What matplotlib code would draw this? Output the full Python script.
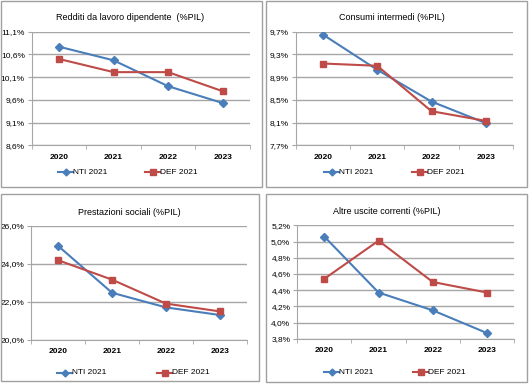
import matplotlib.pyplot as plt
from matplotlib.patches import Rectangle
from matplotlib.ticker import FuncFormatter, FixedLocator
import numpy as np

plt.rcParams['font.family'] = ['Liberation Sans Narrow', 'Liberation Sans', 'DejaVu Sans']

W, H = 529, 384

years = ['2020', '2021', '2022', '2023']
series_names = ['NTI 2021', 'DEF 2021']

titles = ['Redditi da lavoro dipendente  (%PIL)',
          'Consumi intermedi (%PIL)',
          'Prestazioni sociali (%PIL)',
          'Altre uscite correnti (%PIL)']

nti_redditi = [10.77, 10.47, 9.90, 9.53]
def_redditi = [10.50, 10.21, 10.21, 9.79]
nti_consumi = [9.65, 9.03, 8.47, 8.09]
def_consumi = [9.14, 9.10, 8.30, 8.13]
nti_prest = [24.93, 22.47, 21.70, 21.30]
def_prest = [24.18, 23.16, 21.90, 21.49]
nti_altre = [5.06, 4.37, 4.15, 3.87]
def_altre = [4.54, 5.01, 4.50, 4.37]

yticks_redditi = [8.6, 9.1, 9.6, 10.1, 10.6, 11.1]
yticks_consumi = [7.7, 8.1, 8.5, 8.9, 9.3, 9.7]
yticks_prest = [20.0, 22.0, 24.0, 26.0]
yticks_altre = [3.8, 4.0, 4.2, 4.4, 4.6, 4.8, 5.0, 5.2]

blue = '#4a7ebb'
red = '#be4b48'
grid_c = '#a6a6a6'

fig = plt.figure(figsize=(W / 100, H / 100), dpi=100)

# panel frames (pixel boxes: x0, y0, x1, y1)
frames = [(1, 1, 262, 187), (266, 1, 527, 187),
          (1, 194, 259, 381), (266, 194, 527, 382)]
for x0, y0, x1, y1 in frames:
    fig.patches.append(Rectangle((x0 / W, 1 - y1 / H), (x1 - x0) / W, (y1 - y0) / H,
                                 transform=fig.transFigure, fill=False,
                                 edgecolor='#a0a0a0', linewidth=1.0))

# plot areas in pixels: left, top, right, bottom
areas = [(31.7, 31.7, 250, 145.3), (295.7, 31.7, 513, 145.3),
         (31.3, 225.7, 246.7, 339.7), (297.3, 225.3, 514, 338.7)]
title_pos = [(130, 17), (392, 17), (129, 212.5), (386.5, 212)]
legend_y = [172, 172, 372.5, 372]
legend_x = [(58, 145), (324, 412), (57, 157), (324, 413)]

data = [(nti_redditi, def_redditi, yticks_redditi),
        (nti_consumi, def_consumi, yticks_consumi),
        (nti_prest, def_prest, yticks_prest),
        (nti_altre, def_altre, yticks_altre)]

fmt = FuncFormatter(lambda v, p: ('%.1f' % v).replace('.', ',') + '%')

for i, (nti, dff, yt) in enumerate(data):
    l, t, r, b = areas[i]
    ax = fig.add_axes([l / W, 1 - b / H, (r - l) / W, (b - t) / H])
    x = np.arange(len(years))
    ax.plot(x, nti, color=blue, lw=1.5, marker='D', ms=4, label=series_names[0], zorder=3)
    ax.plot(x, dff, color=red, lw=1.5, marker='s', ms=4.5, label=series_names[1], zorder=3)
    ax.set_xlim(-0.5, len(years) - 0.5)
    ax.set_ylim(yt[0], yt[-1])
    ax.set_yticks(yt)
    ax.yaxis.set_major_formatter(fmt)
    ax.set_xticks(x)
    ax.set_xticklabels(years, fontsize=6, fontweight='bold')
    ax.xaxis.set_minor_locator(FixedLocator(np.arange(-0.5, len(years), 1.0)))
    ax.tick_params(axis='x', which='major', length=0, pad=6)
    ax.tick_params(axis='x', which='minor', length=3, color=grid_c, direction='out')
    ax.tick_params(axis='y', length=3, color=grid_c, labelsize=6, pad=2)
    ax.grid(axis='y', color=grid_c, lw=1.0)
    ax.set_axisbelow(True)
    for s in ['top', 'right']:
        ax.spines[s].set_visible(False)
    for s in ['left', 'bottom']:
        ax.spines[s].set_color(grid_c)
    ax.patch.set_alpha(0)

    tx, ty = title_pos[i]
    fig.text(tx / W, 1 - ty / H, titles[i], ha='center', va='center', fontsize=6.5)

    # legend entries
    ly = 1 - legend_y[i] / H
    for j, (col, mk, ms) in enumerate([(blue, 'D', 3.5), (red, 's', 4.5)]):
        lx = legend_x[i][j]
        fig.lines.append(plt.Line2D([lx / W, (lx + 15) / W], [ly, ly], transform=fig.transFigure,
                                    color=col, lw=1.5))
        fig.lines.append(plt.Line2D([(lx + 7.5) / W], [ly], transform=fig.transFigure,
                                    color=col, marker=mk, ms=ms, lw=0))
        fig.text((lx + 15) / W, ly, series_names[j], ha='left', va='center', fontsize=6)

fig.savefig('out.png', dpi=100)
